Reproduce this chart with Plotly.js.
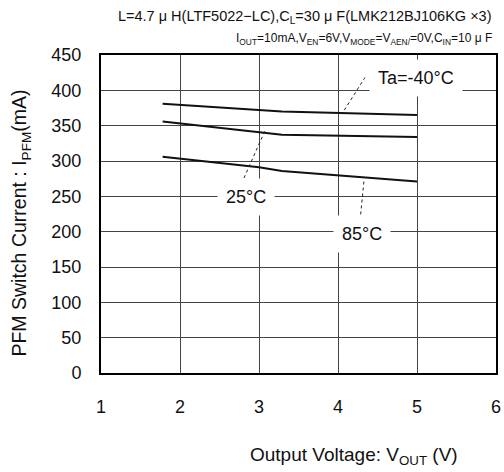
<!DOCTYPE html>
<html><head><meta charset="utf-8">
<script src="https://cdn.plot.ly/plotly-3.0.1.min.js"></script>
<style>body{margin:0;background:#fff}#c{width:504px;height:472px}</style>
</head><body><div id="c"></div>
<script>
// Data
const vout_m40 = [1.78, 3.29, 5.0];
const ipfm_m40 = [381, 370, 365];
const vout_25 = [1.78, 3.29, 5.0];
const ipfm_25 = [356, 337, 334];
const vout_85 = [1.78, 3.0, 3.29, 4.0, 5.0];
const ipfm_85 = [306, 291, 286, 280, 271];
const labels = ["Ta=-40°C", "25°C", "85°C"];
const labelX = [4.99, 2.84, 4.30];
const labelY = [417, 249, 197];
// leader lines (data coords): [x0, y0, x1, y1]
const leaderX0 = [4.08, 2.81, 4.28];
const leaderY0 = [372, 276, 216];
const leaderX1 = [4.34, 3.08, 4.33];
const leaderY1 = [418, 344, 274];
const xTicks = [1, 2, 3, 4, 5, 6];
const yTicks = [0, 50, 100, 150, 200, 250, 300, 350, 400, 450];

const F = "Arial, 'Liberation Sans', sans-serif";
const line = {color: '#111', width: 2};
const traces = [
  {x: vout_m40, y: ipfm_m40, mode: 'lines', line: line, name: labels[0]},
  {x: vout_25, y: ipfm_25, mode: 'lines', line: line, name: labels[1]},
  {x: vout_85, y: ipfm_85, mode: 'lines', line: line, name: labels[2]}
];
const shapes = leaderX0.map((x0, i) => ({
  type: 'line', xref: 'x', yref: 'y', x0: x0, y0: leaderY0[i], x1: leaderX1[i], y1: leaderY1[i],
  line: {color: '#222', width: 1, dash: 'dot'}
}));
const annots = labels.map((t, i) => ({
  xref: 'x', yref: 'y', x: labelX[i], y: labelY[i], text: t, showarrow: false,
  font: {family: F, size: 18, color: '#111'}, bgcolor: '#fff', borderpad: 8
}));
annots.push({
  xref: 'paper', yref: 'paper', x: 0.64, y: -0.262, yanchor: 'middle', xanchor: 'center',
  text: 'Output Voltage: V<sub>OUT</sub> (V)', showarrow: false,
  font: {family: F, size: 19, color: '#111'}
});
annots.push({
  xref: 'paper', yref: 'paper', x: -0.2025, y: 0.47, xanchor: 'center', yanchor: 'middle', textangle: -90,
  text: 'PFM Switch Current : I<sub>PFM</sub>(mA)', showarrow: false,
  font: {family: F, size: 19.5, color: '#111'}
});
annots.push({
  xref: 'paper', yref: 'paper', x: 0.995, y: 1.0, yanchor: 'bottom', xanchor: 'right', yshift: 27,
  text: 'L=4.7 μ H(LTF5022−LC),C<sub>L</sub>=30 μ F(LMK212BJ106KG ×3)', showarrow: false,
  font: {family: F, size: 14.5, color: '#111'}
});
annots.push({
  xref: 'paper', yref: 'paper', x: 0.995, y: 1.0, yanchor: 'bottom', xanchor: 'right', yshift: 6,
  text: 'I<sub>OUT</sub>=10mA,V<sub>EN</sub>=6V,V<sub>MODE</sub>=V<sub>AEN/</sub>=0V,C<sub>IN</sub>=10 μ F', showarrow: false,
  font: {family: F, size: 12, color: '#111'}
});

const layout = {
  width: 504, height: 472,
  margin: {l: 101, r: 8, t: 55, b: 99},
  paper_bgcolor: '#fff', plot_bgcolor: '#fff',
  showlegend: false,
  font: {family: F, color: '#111'},
  xaxis: {
    range: [1, 6], tickvals: xTicks, ticktext: xTicks.map(String),
    showgrid: true, gridcolor: '#444', gridwidth: 1,
    showline: true, linecolor: '#000', linewidth: 2, mirror: true,
    ticks: '', zeroline: false, tickfont: {family: F, size: 18, color: '#111'},
    ticklabelstandoff: 16
  },
  yaxis: {
    range: [0, 450], tickvals: yTicks, ticktext: yTicks.map(String),
    showgrid: true, gridcolor: '#444', gridwidth: 1,
    showline: true, linecolor: '#000', linewidth: 2, mirror: true,
    ticks: '', zeroline: false, tickfont: {family: F, size: 18, color: '#111'},
    ticklabelstandoff: 14
  },
  shapes: shapes,
  annotations: annots
};
Plotly.newPlot('c', traces, layout, {displayModeBar: false, staticPlot: true});
</script></body></html>
